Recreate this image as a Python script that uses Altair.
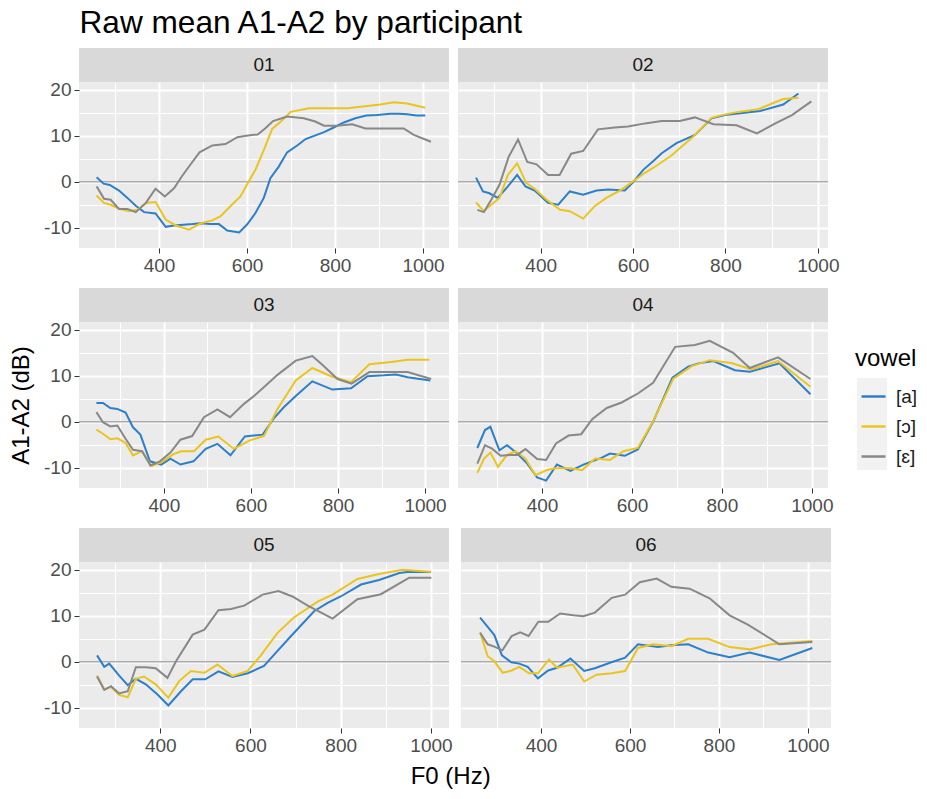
import altair as alt
import pandas as pd

FONT = "Liberation Sans"

vowels = ["[a]", "[ɔ]", "[ɛ]"]
vowel_colors = ["#2C7FC9", "#EBC41F", "#888888"]
participants = ["01", "02", "03", "04", "05", "06"]

# ---- participant 01 ----
f0_01_a = [258, 274, 288, 309, 328, 347, 366, 392, 415, 434, 476, 495, 517, 536, 555, 582, 600, 619, 638, 653,
           672, 691, 714, 733, 775, 797, 820, 846, 871, 896, 926, 945, 964, 985, 1005]
db_01_a = [1.0, -0.4, -0.7, -1.9, -3.5, -5.2, -6.6, -6.9, -9.8, -9.5, -9.2, -9.0, -9.2, -9.2, -10.6, -11.0, -9.3,
           -6.8, -3.5, 0.8, 3.3, 6.4, 7.9, 9.3, 10.8, 11.8, 12.9, 13.8, 14.4, 14.5, 14.8, 14.8, 14.7, 14.4, 14.4]
f0_01_o = [258, 275, 290, 309, 332, 351, 370, 392, 415, 438, 468, 495, 521, 540, 563, 585, 600, 619, 638, 657,
           680, 699, 741, 782, 828, 873, 903, 933, 964, 1005]
db_01_o = [-3.0, -4.6, -5.0, -5.9, -6.4, -6.1, -4.6, -4.4, -8.2, -9.5, -10.4, -9.0, -8.4, -7.5, -5.2, -3.2, -0.6,
           2.6, 6.9, 11.5, 13.4, 15.2, 16.0, 16.0, 16.0, 16.5, 16.8, 17.3, 17.0, 16.1]
f0_01_e = [258, 275, 290, 309, 328, 347, 370, 392, 413, 434, 452, 471, 492, 521, 551, 578, 598, 624, 641, 659,
           691, 729, 755, 775, 805, 839, 869, 903, 956, 979, 1018]
db_01_e = [-1.0, -3.7, -3.9, -5.9, -5.9, -6.6, -4.6, -1.5, -3.2, -1.4, 1.2, 3.7, 6.4, 7.9, 8.2, 9.7, 10.0, 10.3,
           11.6, 13.2, 14.2, 13.8, 13.1, 12.2, 12.2, 12.5, 11.6, 11.6, 11.6, 10.2, 8.7]

# ---- participant 02 ----
f0_02_a = [260, 275, 289, 307, 329, 349, 367, 387, 416, 438, 463, 492, 521, 546, 582, 600, 622, 644, 662, 694,
           734, 770, 799, 832, 875, 925, 958]
db_02_a = [0.9, -2.1, -2.5, -3.5, -1.0, 1.5, -1.0, -1.9, -4.6, -5.0, -2.1, -2.8, -1.9, -1.7, -1.9, -0.1, 2.6, 4.5,
           6.2, 8.4, 10.2, 13.8, 14.5, 14.9, 15.4, 16.8, 19.2]
f0_02_o = [260, 277, 293, 311, 329, 349, 369, 387, 413, 442, 463, 492, 517, 542, 575, 600, 625, 654, 683, 730,
           770, 792, 828, 871, 925, 958]
db_02_o = [-4.5, -6.4, -5.0, -3.5, 1.5, 4.0, -0.3, -1.5, -3.9, -6.1, -6.4, -8.0, -5.3, -3.5, -1.7, 0.1, 1.9, 3.7,
           5.7, 9.8, 13.9, 14.5, 15.2, 15.8, 18.0, 18.3]
f0_02_e = [263, 277, 293, 311, 331, 351, 371, 391, 416, 441, 466, 492, 524, 560, 589, 626, 662, 701, 734, 774,
           824, 868, 908, 944, 986]
db_02_e = [-6.1, -6.6, -3.9, -0.6, 5.5, 9.2, 4.3, 3.8, 1.5, 1.5, 6.1, 6.7, 11.4, 11.8, 12.0, 12.7, 13.2, 13.2,
           14.0, 12.5, 12.3, 10.5, 12.7, 14.5, 17.5]

# ---- participant 03 ----
f0_03_a = [245, 260, 277, 293, 312, 329, 346, 368, 394, 415, 438, 468, 496, 523, 553, 586, 627, 652, 676, 703,
           741, 787, 830, 868, 906, 933, 960, 1012]
db_03_a = [4.1, 4.1, 3.0, 2.8, 2.0, -1.2, -2.8, -8.6, -9.3, -8.0, -9.3, -8.6, -5.9, -4.8, -7.3, -3.2, -2.8, 0.7,
           3.2, 5.6, 8.8, 7.0, 7.3, 9.9, 10.1, 10.3, 9.7, 9.0]
f0_03_o = [245, 260, 277, 293, 312, 329, 350, 371, 394, 423, 440, 469, 496, 525, 561, 596, 630, 661, 703, 741,
           784, 830, 872, 922, 960, 1010]
db_03_o = [-1.7, -2.6, -3.8, -3.6, -4.6, -7.3, -6.4, -9.6, -8.8, -7.0, -6.4, -6.4, -3.9, -3.2, -5.9, -4.1, -3.1,
           2.8, 9.0, 11.7, 9.9, 8.6, 12.5, 13.0, 13.5, 13.5]
f0_03_e = [245, 260, 277, 293, 312, 329, 350, 369, 391, 415, 438, 465, 492, 523, 552, 584, 607, 634, 661, 703,
           741, 764, 799, 831, 872, 960, 1014]
db_03_e = [2.1, -0.1, -1.0, -0.8, -3.7, -6.1, -6.4, -9.5, -8.6, -6.7, -3.9, -3.1, 1.0, 2.7, 1.0, 3.9, 5.6, 7.9,
           10.2, 13.3, 14.3, 12.4, 9.3, 8.3, 10.8, 10.8, 9.3]

# ---- participant 04 ----
f0_04_a = [256, 273, 285, 305, 322, 345, 367, 389, 409, 433, 463, 492, 533, 551, 584, 613, 647, 690, 725, 748,
           781, 829, 862, 928, 997]
db_04_a = [-5.7, -1.8, -1.1, -6.2, -5.1, -6.9, -9.1, -12.1, -12.8, -9.3, -10.7, -9.3, -7.8, -6.9, -7.4, -6.0,
           0.0, 9.6, 12.0, 12.7, 13.2, 11.2, 10.9, 12.7, 6.0]
f0_04_o = [256, 271, 285, 302, 322, 341, 363, 385, 411, 429, 463, 489, 518, 551, 581, 613, 647, 692, 733, 773,
           821, 866, 925, 997]
db_04_o = [-11.1, -8.0, -6.7, -9.8, -7.2, -6.4, -8.0, -11.6, -10.5, -10.1, -10.1, -10.5, -8.0, -8.3, -6.4, -5.7,
           0.1, 9.4, 12.1, 13.4, 12.8, 11.4, 13.2, 7.6]
f0_04_e = [256, 273, 288, 308, 330, 345, 363, 389, 409, 431, 459, 487, 512, 544, 577, 614, 647, 696, 740, 773,
           825, 862, 925, 997]
db_04_e = [-9.1, -5.1, -5.8, -7.4, -7.2, -7.2, -5.9, -8.1, -8.3, -4.7, -3.0, -2.7, 0.6, 3.0, 4.2, 6.2, 8.5, 16.3,
           16.7, 17.6, 15.0, 11.7, 14.0, 9.3]

# ---- participant 05 ----
f0_05_a = [260, 276, 287, 309, 328, 346, 368, 394, 418, 446, 472, 500, 529, 560, 594, 630, 653, 690, 741, 771,
           800, 845, 885, 930, 948, 1000]
db_05_a = [1.4, -1.1, -0.4, -3.0, -5.1, -3.7, -4.9, -7.1, -9.5, -6.4, -3.8, -3.8, -2.1, -3.3, -2.5, -0.9, 1.6,
           5.6, 11.0, 12.8, 14.2, 16.8, 17.8, 19.3, 19.5, 19.5]
f0_05_o = [260, 276, 291, 309, 328, 346, 364, 390, 418, 442, 468, 498, 527, 560, 594, 623, 660, 697, 749, 782,
           837, 885, 937, 1000]
db_05_o = [-3.0, -6.0, -5.5, -7.2, -7.7, -3.7, -3.2, -4.9, -7.8, -4.2, -2.0, -2.4, -0.6, -3.1, -2.0, 1.4, 6.3,
           9.7, 13.1, 14.6, 18.0, 19.1, 20.0, 19.6]
f0_05_e = [260, 276, 291, 309, 328, 346, 368, 390, 416, 435, 472, 498, 529, 557, 586, 627, 662, 693, 727, 782,
           837, 889, 952, 1001]
db_05_e = [-3.2, -6.1, -5.3, -6.9, -6.4, -1.2, -1.2, -1.4, -3.5, 0.1, 5.9, 7.0, 11.2, 11.5, 12.2, 14.6, 15.4,
           14.2, 12.2, 9.4, 13.6, 14.7, 18.3, 18.3]

# ---- participant 06 ----
f0_06_a = [263, 280, 295, 312, 333, 351, 370, 393, 416, 436, 466, 497, 521, 555, 589, 618, 663, 693, 731, 776,
           824, 869, 936, 1010]
db_06_a = [9.6, 7.6, 5.8, 1.4, -0.1, -0.4, -1.1, -3.6, -1.9, -1.3, 0.7, -2.0, -1.4, -0.2, 0.9, 3.8, 3.2, 3.6,
           3.8, 2.0, 1.0, 2.0, 0.4, 3.0]
f0_06_o = [263, 280, 295, 314, 334, 351, 373, 393, 418, 436, 471, 497, 525, 559, 589, 618, 652, 693, 731, 776,
           824, 869, 918, 1010]
db_06_o = [6.4, 1.2, 0.1, -2.4, -1.9, -1.1, -2.5, -2.5, 0.5, -1.3, -0.6, -4.3, -2.8, -2.5, -2.0, 3.0, 3.8, 3.4,
           5.0, 5.0, 3.2, 2.7, 3.8, 4.5]
f0_06_e = [263, 280, 295, 313, 334, 353, 372, 394, 416, 443, 473, 495, 521, 559, 589, 622, 660, 693, 734, 779,
           824, 865, 936, 1010]
db_06_e = [6.3, 3.8, 3.3, 2.5, 5.6, 6.4, 5.6, 8.7, 8.7, 10.5, 10.1, 9.9, 10.7, 13.9, 14.6, 17.3, 18.1, 16.3,
           15.9, 13.8, 10.1, 8.1, 3.8, 4.3]

series = {
    ("01", "[a]"): (f0_01_a, db_01_a), ("01", "[ɔ]"): (f0_01_o, db_01_o), ("01", "[ɛ]"): (f0_01_e, db_01_e),
    ("02", "[a]"): (f0_02_a, db_02_a), ("02", "[ɔ]"): (f0_02_o, db_02_o), ("02", "[ɛ]"): (f0_02_e, db_02_e),
    ("03", "[a]"): (f0_03_a, db_03_a), ("03", "[ɔ]"): (f0_03_o, db_03_o), ("03", "[ɛ]"): (f0_03_e, db_03_e),
    ("04", "[a]"): (f0_04_a, db_04_a), ("04", "[ɔ]"): (f0_04_o, db_04_o), ("04", "[ɛ]"): (f0_04_e, db_04_e),
    ("05", "[a]"): (f0_05_a, db_05_a), ("05", "[ɔ]"): (f0_05_o, db_05_o), ("05", "[ɛ]"): (f0_05_e, db_05_e),
    ("06", "[a]"): (f0_06_a, db_06_a), ("06", "[ɔ]"): (f0_06_o, db_06_o), ("06", "[ɛ]"): (f0_06_e, db_06_e),
}

rows = []
for (pid, vowel), (xs, ys) in series.items():
    for x, y in zip(xs, ys):
        rows.append({"participant": pid, "vowel": vowel, "f0": x, "db": y})
df = pd.DataFrame(rows)

# free x range per panel, shared y range
x_domains = {
    "01": [218, 1059], "02": [221, 1022],
    "03": [205, 1055], "04": [213, 1036],
    "05": [220, 1040], "06": [220, 1052],
}
y_domain = [-14.4, 21.7]

PANEL_W, PANEL_H, STRIP_H = 370, 166, 34
MAJOR_X = "datum.value % 200 == 0"
MAJOR_Y = "datum.value % 10 == 0"


def panel(pid, left, y_title, key_box=False):
    d = df[df["participant"] == pid]

    x_axis = alt.Axis(
        values=list(range(300, 1001, 100)),
        labelExpr=f"{MAJOR_X} ? '' + datum.value : ''",
        gridWidth={"condition": {"test": MAJOR_X, "value": 2}, "value": 1},
        tickOpacity={"condition": {"test": MAJOR_X, "value": 1}, "value": 0},
        labelFlush=False, labelOverlap=False, title=None,
    )
    if left:
        y_axis = alt.Axis(
            values=[-10, -5, 0, 5, 10, 15, 20],
            labelExpr=f"{MAJOR_Y} ? '' + datum.value : ''",
            gridWidth={"condition": {"test": MAJOR_Y, "value": 2}, "value": 1},
            tickOpacity={"condition": {"test": MAJOR_Y, "value": 1}, "value": 0},
            labelFlush=False, labelOverlap=False,
            title=y_title, titleOpacity=1 if y_title.strip() else 0,
        )
    else:
        y_axis = alt.Axis(
            values=[-10, -5, 0, 5, 10, 15, 20],
            gridWidth={"condition": {"test": MAJOR_Y, "value": 2}, "value": 1},
            labels=False, ticks=False, title=None,
        )

    xs = alt.Scale(domain=x_domains[pid], nice=False, zero=False)
    ys = alt.Scale(domain=y_domain, nice=False, zero=False)

    strip_df = pd.DataFrame({"participant": [pid]})
    strip = alt.Chart(strip_df).mark_rect(color="#D9D9D9").encode(
        x=alt.value(0), x2=alt.value(PANEL_W),
        y=alt.value(-STRIP_H), y2=alt.value(0),
    )
    strip_text = alt.Chart(strip_df).mark_text(
        font=FONT, fontSize=19, color="#1A1A1A", baseline="middle"
    ).encode(x=alt.value(PANEL_W / 2), y=alt.value(-STRIP_H / 2), text="participant:N")

    zero_line = alt.Chart(pd.DataFrame({"zero": [0]})).mark_rule(
        color="#ABABAB", strokeWidth=1.5
    ).encode(y=alt.Y("zero:Q", scale=ys, axis=y_axis))

    lines = alt.Chart(d).mark_line(strokeWidth=2).encode(
        x=alt.X("f0:Q", scale=xs, axis=x_axis),
        y=alt.Y("db:Q", scale=ys, axis=y_axis),
        color=alt.Color(
            "vowel:N",
            scale=alt.Scale(domain=vowels, range=vowel_colors),
            legend=alt.Legend(
                title="vowel", orient="none", legendX=776, legendY=265,
                symbolType="stroke", symbolStrokeWidth=2.5, symbolSize=576, symbolOffset=5,
                titleFontSize=24, titleFont=FONT, titleFontWeight="normal", titleColor="#000000",
                labelFontSize=19, labelFont=FONT, labelColor="#1A1A1A", labelOffset=9,
                rowPadding=6, titlePadding=12,
            ),
        ),
    )
    layers = [strip, strip_text, zero_line, lines]
    if key_box:
        # grey backing behind the legend keys, to the right of this panel
        layers.insert(0, alt.Chart(strip_df).mark_rect(color="#F2F2F2").encode(
            x=alt.value(PANEL_W + 29), x2=alt.value(PANEL_W + 59),
            y=alt.value(56), y2=alt.value(148),
        ))
    return alt.layer(*layers).properties(width=PANEL_W, height=PANEL_H)


title_font = dict(font=FONT, fontWeight="normal", color="#000000")

row1 = alt.hconcat(panel("01", True, " "), panel("02", False, ""), spacing=7)
row2 = alt.hconcat(panel("03", True, "A1-A2 (dB)"), panel("04", False, "", key_box=True), spacing=7)
row3 = alt.hconcat(
    panel("05", True, " "), panel("06", False, ""), spacing=7,
    title=alt.TitleParams("F0 (Hz)", orient="bottom", anchor="middle", fontSize=24,
                          offset=10, dx=30, **title_font),
)

chart = alt.vconcat(
    row1, row2, row3, spacing=13,
    title=alt.TitleParams("Raw mean A1-A2 by participant", anchor="start", fontSize=31.6,
                          offset=8, dx=70, **title_font),
).properties(
    padding={"left": 9, "top": 8, "right": 5, "bottom": 5},
    background="#FFFFFF",
).configure_view(
    fill="#EBEBEB", stroke=None
).configure_axis(
    domain=False, gridColor="#FFFFFF", tickColor="#333333", tickSize=5, tickWidth=1,
    labelFont=FONT, labelFontSize=19, labelColor="#4D4D4D", labelPadding=3,
    titleFont=FONT, titleFontSize=24, titleFontWeight="normal", titleColor="#000000", titlePadding=10,
)

chart.save("out.html", embed_options={"renderer": "svg", "actions": False})
